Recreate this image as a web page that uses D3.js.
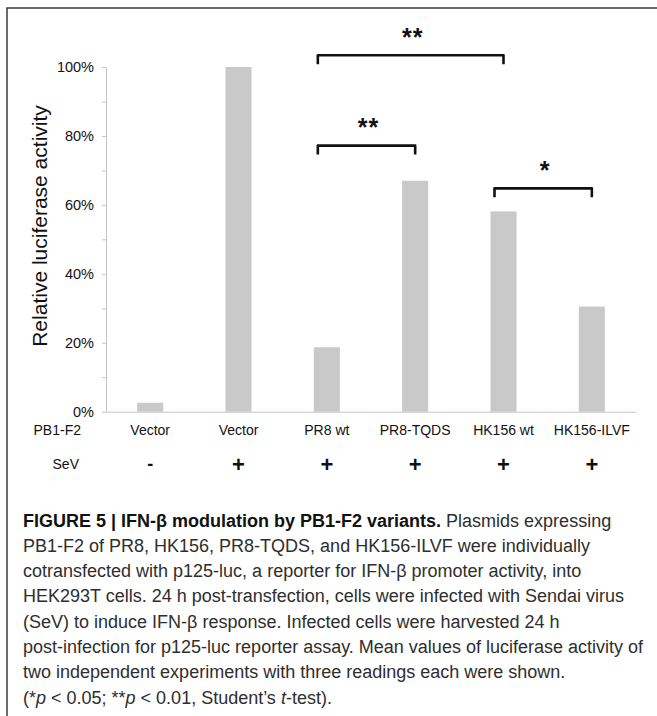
<!DOCTYPE html>
<html><head><meta charset="utf-8">
<script src="https://cdn.jsdelivr.net/npm/d3@7"></script>
<style>
html,body{margin:0;padding:0;background:#fff;}
svg{display:block;font-family:"Liberation Sans",Arial,sans-serif;}
</style></head>
<body>
<svg id="c" width="657" height="716"></svg>
<script>
// ---- data ----
const categories = ["Vector", "Vector", "PR8 wt", "PR8-TQDS", "HK156 wt", "HK156-ILVF"];
const sevLabels = ["-", "+", "+", "+", "+", "+"];
const values = [2.6, 100, 18.7, 67.0, 58.1, 30.5];
const yTickValues = [0, 10, 20, 30, 40, 50, 60, 70, 80, 90, 100];
const bracketFrom = [2, 2, 4];
const bracketTo = [4, 3, 5];
const bracketLevel = [103.4, 77.2, 64.8];
const bracketLabel = ["**", "**", "*"];
const yTitle = "Relative luciferase activity";
const rowTitles = ["PB1-F2", "SeV"];
const captionBold = "FIGURE 5 | IFN-\u03B2 modulation by PB1-F2 variants.";
const captionLines = [
  " Plasmids expressing",
  "PB1-F2 of PR8, HK156, PR8-TQDS, and HK156-ILVF were individually",
  "cotransfected with p125-luc, a reporter for IFN-\u03B2 promoter activity, into",
  "HEK293T cells. 24 h post-transfection, cells were infected with Sendai virus",
  "(SeV) to induce IFN-\u03B2 response. Infected cells were harvested 24 h",
  "post-infection for p125-luc reporter assay. Mean values of luciferase activity of",
  "two independent experiments with three readings each were shown."
];

// ---- layout ----
const svg = d3.select("#c");
const pLeft = 106, pRight = 636, pTop = 67, pBottom = 411.7;

// frame
svg.append("rect").attr("x", 7).attr("y", 8).attr("width", 700).attr("height", 800)
  .attr("fill", "none").attr("stroke", "#3a3a3a").attr("stroke-width", 1.5);

const x = d3.scaleBand().domain(d3.range(categories.length)).range([pLeft, pRight]);
const y = d3.scaleLinear().domain([0, 100]).range([pBottom, pTop]);
const cx = i => x(i) + x.bandwidth() / 2;
const barW = x.bandwidth() * 0.295;

// y axis
const ya = svg.append("g").attr("transform", `translate(${pLeft},0)`)
  .call(d3.axisLeft(y).tickValues(yTickValues).tickSize(4).tickSizeOuter(0).tickPadding(8)
    .tickFormat(d => d % 20 === 0 ? d + "%" : ""));
ya.select(".domain").attr("stroke", "#c4c4c4");
ya.selectAll(".tick line").attr("stroke", "#c4c4c4");
ya.selectAll(".tick text").attr("font-size", 14.5).attr("fill", "#111")
  .attr("font-family", "Liberation Sans, Arial, sans-serif");

// x axis baseline
const xa = svg.append("g").attr("transform", `translate(0,${pBottom})`)
  .call(d3.axisBottom(x).tickSize(0).tickSizeOuter(0).tickFormat(""));
xa.select(".domain").attr("stroke", "#c4c4c4");

// bars
svg.append("g").selectAll("rect").data(values).join("rect")
  .attr("x", (d, i) => cx(i) - barW / 2)
  .attr("width", barW)
  .attr("y", d => y(d))
  .attr("height", d => y(0) - y(d))
  .attr("fill", "#c9c9c9");

// category labels
svg.append("g").selectAll("text").data(categories).join("text")
  .attr("x", (d, i) => cx(i)).attr("y", 430).attr("dy", "0.35em")
  .attr("text-anchor", "middle").attr("font-size", 14).attr("fill", "#111")
  .text(d => d);
// SeV row
svg.append("g").selectAll("text").data(sevLabels).join("text")
  .attr("x", (d, i) => cx(i)).attr("y", 464).attr("dy", "0.35em")
  .attr("text-anchor", "middle").attr("font-size", d => d === "+" ? 22 : 18)
  .attr("font-weight", "bold").attr("fill", "#111")
  .text(d => d);
// row titles
svg.append("text").attr("x", 81).attr("y", 430).attr("dy", "0.35em")
  .attr("text-anchor", "end").attr("font-size", 14).attr("fill", "#111").text(rowTitles[0]);
svg.append("text").attr("x", 79).attr("y", 464).attr("dy", "0.35em")
  .attr("text-anchor", "end").attr("font-size", 14).attr("fill", "#111").text(rowTitles[1]);

// y title
svg.append("text").attr("transform", `translate(47,226) rotate(-90)`)
  .attr("text-anchor", "middle").attr("font-size", 21).attr("fill", "#111").text(yTitle);

// brackets
const br = svg.append("g");
bracketFrom.forEach((f, k) => {
  const x1 = cx(f) - 9, x2 = cx(bracketTo[k]) + 0;
  const yy = y(bracketLevel[k]);
  br.append("path")
    .attr("d", `M${x1},${yy + 9}V${yy}H${x2}V${yy + 9}`)
    .attr("fill", "none").attr("stroke", "#111").attr("stroke-width", 2.6)
    .attr("stroke-linejoin", "round");
  br.append("text").attr("x", (x1 + x2) / 2 + 2).attr("y", yy - 27).attr("dy", "0.7em")
    .attr("text-anchor", "middle").attr("font-size", 25).attr("font-weight", "bold")
    .attr("letter-spacing", 1).attr("fill", "#111").text(bracketLabel[k]);
});

// caption
const cap = svg.append("g").attr("font-size", 18).attr("fill", "#2e2e2e");
const lineY = i => 526.5 + i * 25.3;
const t0 = cap.append("text").attr("x", 23).attr("y", lineY(0));
t0.append("tspan").attr("font-weight", "bold").attr("fill", "#111").text(captionBold);
t0.append("tspan").text(captionLines[0]);
captionLines.slice(1).forEach((l, i) => {
  cap.append("text").attr("x", 23).attr("y", lineY(i + 1)).text(l);
});
const last = cap.append("text").attr("x", 23).attr("y", lineY(7));
last.append("tspan").text("(*");
last.append("tspan").attr("font-style", "italic").text("p");
last.append("tspan").text(" < 0.05; **");
last.append("tspan").attr("font-style", "italic").text("p");
last.append("tspan").text(" < 0.01, Student\u2019s ");
last.append("tspan").attr("font-style", "italic").text("t");
last.append("tspan").text("-test).");
</script>
</body></html>
